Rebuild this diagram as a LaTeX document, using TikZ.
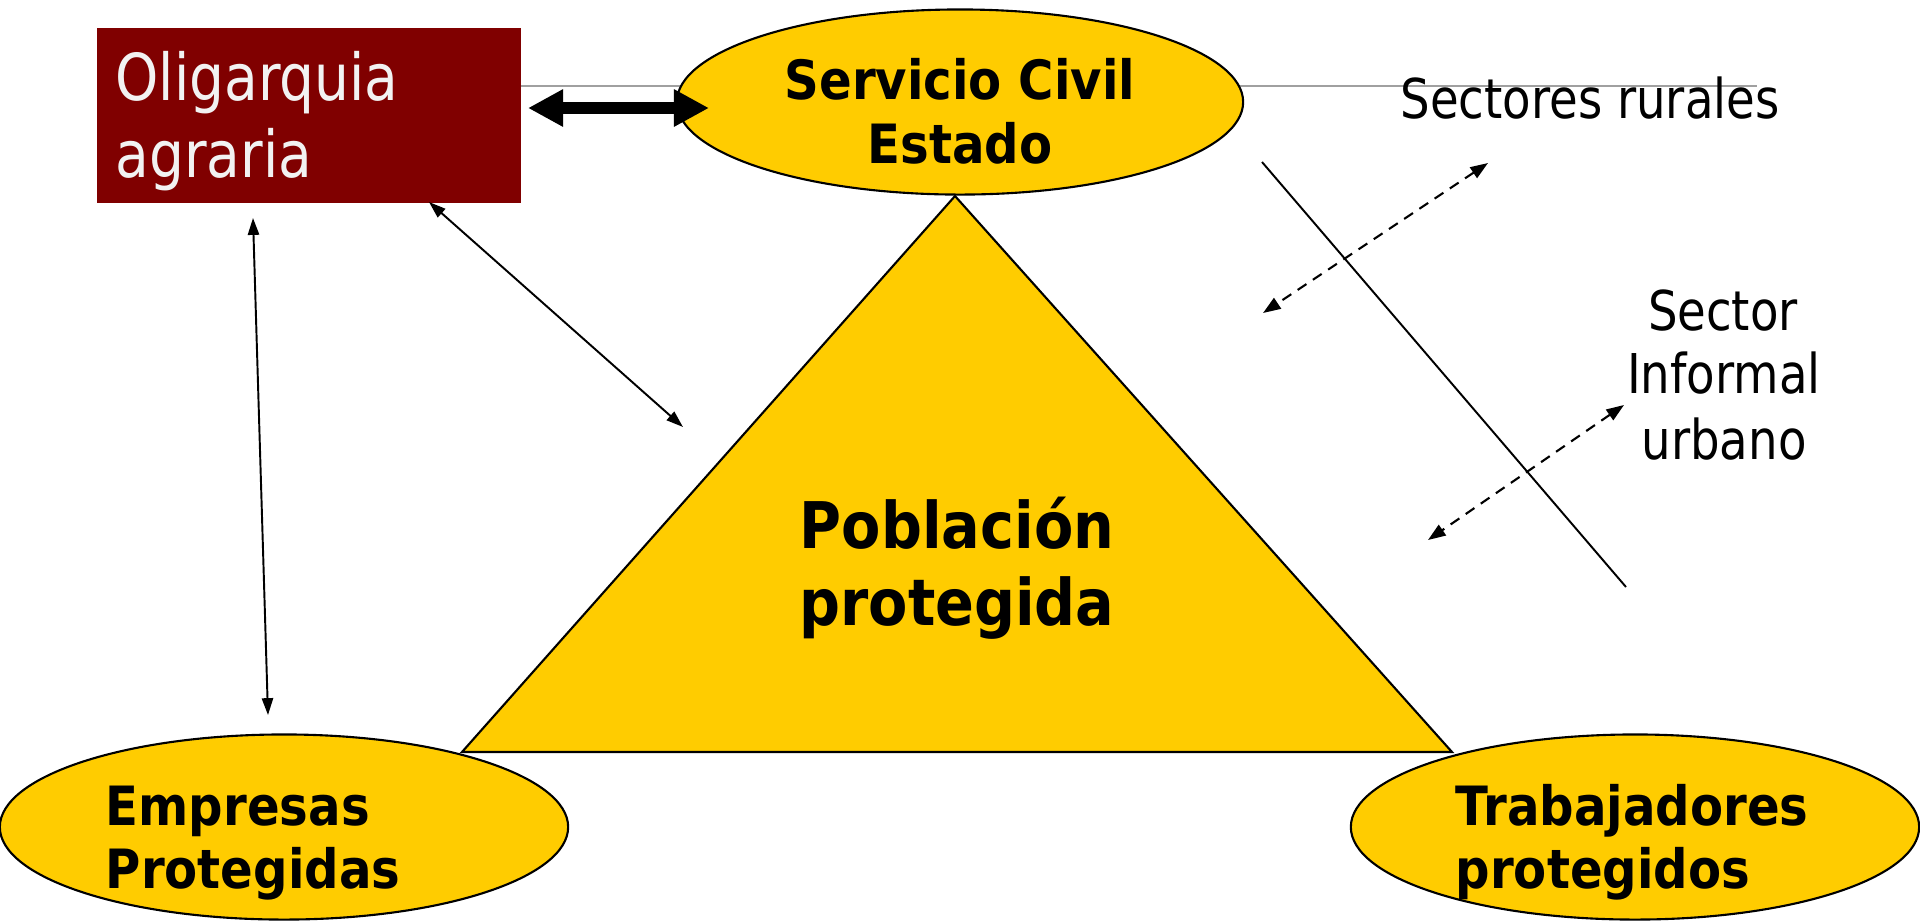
\documentclass[tikz,border=0pt]{standalone}
\usepackage{fontspec}
\setmainfont{DejaVu Sans}[FakeStretch=0.85,BoldFeatures={FakeStretch=0.89}]
\usetikzlibrary{arrows.meta,shapes.geometric}
\definecolor{gold}{HTML}{FFCC00}
\definecolor{oligred}{HTML}{800000}
\definecolor{guide}{HTML}{A0A0A0}
\begin{document}
\begin{tikzpicture}[x=0.01cm,y=-0.01cm,
  goldell/.style={ellipse,draw=black,line width=0.6pt,fill=gold,minimum width=5.66cm,minimum height=1.85cm,inner sep=0pt},
  boldtxt/.style={inner sep=0pt,font=\bfseries\fontsize{15.4pt}{18pt}\selectfont},
  regtxt/.style={inner sep=0pt,font=\fontsize{15.6pt}{18pt}\selectfont,anchor=base},
  oligtxt/.style={inner sep=0pt,anchor=base west,text=white!95!black,font=\fontsize{18.4pt}{22pt}\selectfont},
  pobtxt/.style={inner sep=0pt,anchor=base,font=\bfseries\fontsize{18.3pt}{22pt}\selectfont},
  thinarrow/.style={line width=0.55pt,{Triangle[length=4.8pt,width=3.2pt]}-{Triangle[length=4.8pt,width=3.2pt]}},
  dasharrow/.style={line width=0.6pt,dash pattern=on 3pt off 2.2pt,{Triangle[length=5pt,width=3.6pt]}-{Triangle[length=5pt,width=3.6pt]}},
  thickarrow/.style={line width=3.4pt,{Triangle[length=10pt,width=10pt]}-{Triangle[length=10pt,width=10pt]}}
]
\useasboundingbox (0,0) rectangle (1920,920);

% guide line
\coordinate (gl) at (520,86);
\coordinate (gr) at (1757,86);
\draw[guide,line width=0.6pt] (gl) -- (gr);

% triangle
\coordinate (apex) at (955,196);
\coordinate (tbl) at (462,752);
\coordinate (tbr) at (1452,752);
\filldraw[fill=gold,draw=black,line width=0.6pt] (apex) -- (tbl) -- (tbr) -- cycle;
\node[pobtxt] (pob1) at (957,548) {Población};
\node[pobtxt] (pob2) at (957,625) {protegida};

% rectangle
\node[fill=oligred,draw=none,minimum width=4.24cm,minimum height=1.75cm,inner sep=0pt,anchor=north west] (olig) at (96,27) {};
\node[oligtxt] (olig1) at (115,100) {Oligarquia};
\node[oligtxt] (olig2) at (115,177) {agraria};

% ellipses
\node[goldell] (serv) at (960,102) {};
\node[boldtxt,anchor=base] (serv1) at (960,99) {Servicio Civil};
\node[boldtxt,anchor=base] (serv2) at (960,163) {Estado};

\node[goldell,minimum width=5.68cm] (emp) at (284,827) {};
\node[boldtxt,anchor=base west] (emp1) at (105,825) {Empresas};
\node[boldtxt,anchor=base west] (emp2) at (105,888) {Protegidas};

\node[goldell,minimum width=5.68cm] (trab) at (1635,827) {};
\node[boldtxt,anchor=base west] (trab1) at (1455,825) {Trabajadores};
\node[boldtxt,anchor=base west] (trab2) at (1455,888) {protegidos};

% thick arrow
\coordinate (ta) at (528,108);
\coordinate (tb) at (709,108);
\draw[thickarrow] (ta) -- (tb);

% thin arrows
\coordinate (v1) at (253,218);
\coordinate (v2) at (268,715);
\draw[thinarrow] (v1) -- (v2);
\coordinate (d1) at (429,202);
\coordinate (d2) at (683,427);
\draw[thinarrow] (d1) -- (d2);

% right side
\node[regtxt] (rur) at (1590,118) {Sectores rurales};
\node[regtxt] (inf1) at (1723,330) {Sector};
\node[regtxt] (inf2) at (1724,393) {Informal};
\node[regtxt] (inf3) at (1724,459) {urbano};

\coordinate (r1) at (1488,163);
\coordinate (r2) at (1263,313);
\draw[dasharrow] (r1) -- (r2);
\coordinate (u1) at (1624,405);
\coordinate (u2) at (1428,540);
\draw[dasharrow] (u1) -- (u2);

\coordinate (s1) at (1262,162);
\coordinate (s2) at (1626,587);
\draw[line width=0.55pt] (s1) -- (s2);
\end{tikzpicture}
\end{document}
